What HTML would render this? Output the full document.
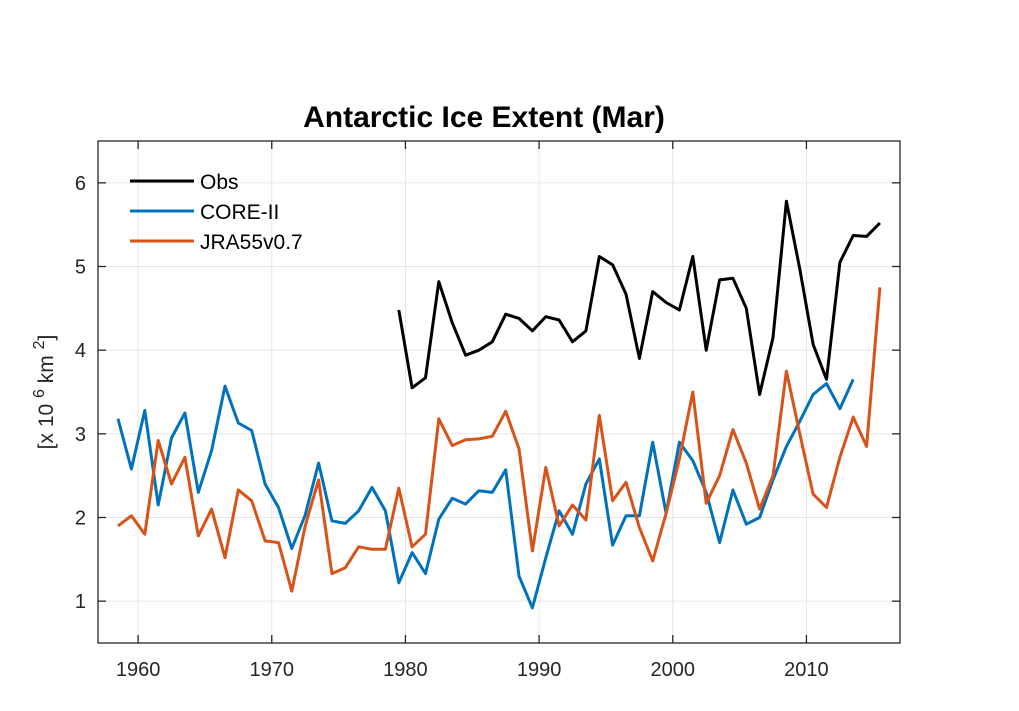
<!DOCTYPE html>
<html><head><meta charset="utf-8"><style>
html,body{margin:0;padding:0;background:#fff;}
svg{display:block;font-family:"Liberation Sans",sans-serif;}
</style></head><body>
<svg id="chart" width="1019" height="711" xmlns="http://www.w3.org/2000/svg">
<text x="484" y="127" text-anchor="middle" font-size="30" font-weight="bold" fill="#000">Antarctic Ice Extent (Mar)</text>
<g id="grid"></g>
<g id="series"></g>
<rect x="98" y="141" width="802" height="502" fill="none" stroke="#262626" stroke-width="1.3"/>
<g id="ticks"></g>
<text transform="translate(53,392) rotate(-90)" text-anchor="middle" font-size="21" fill="#262626">[x 10 <tspan dy="-9" font-size="16">6</tspan><tspan dy="9"> km </tspan><tspan dy="-9" font-size="16">2</tspan><tspan dy="9">]</tspan></text>
<g>
<line x1="130" y1="181" x2="194" y2="181" stroke="#000" stroke-width="3"/>
<text x="200" y="189" font-size="21" fill="#000">Obs</text>
<line x1="130" y1="211" x2="194" y2="211" stroke="#0072BD" stroke-width="3"/>
<text x="200" y="219" font-size="21" fill="#000">CORE-II</text>
<line x1="130" y1="241" x2="194" y2="241" stroke="#D95319" stroke-width="3"/>
<text x="200" y="249" font-size="21" fill="#000">JRA55v0.7</text>
</g>
</svg>
<script>
const xTicks=[1960,1970,1980,1990,2000,2010];
const yTicks=[1,2,3,4,5,6];
const coreStart=1958;
const coreVals=[3.18,2.58,3.28,2.15,2.95,3.25,2.3,2.8,3.57,3.13,3.04,2.4,2.12,1.63,2.03,2.65,1.96,1.93,2.08,2.36,2.08,1.22,1.58,1.33,1.98,2.23,2.16,2.32,2.3,2.57,1.3,0.92,1.52,2.08,1.8,2.4,2.7,1.67,2.02,2.02,2.9,2.05,2.9,2.68,2.3,1.7,2.33,1.92,2.0,2.45,2.85,3.15,3.47,3.6,3.3,3.65];
const jraStart=1958;
const jraVals=[1.9,2.02,1.8,2.92,2.4,2.72,1.78,2.1,1.52,2.33,2.2,1.72,1.7,1.12,1.9,2.45,1.33,1.4,1.65,1.62,1.62,2.35,1.65,1.8,3.18,2.86,2.93,2.94,2.97,3.27,2.82,1.6,2.6,1.9,2.15,1.97,3.22,2.2,2.42,1.88,1.48,2.05,2.7,3.5,2.17,2.5,3.05,2.65,2.1,2.5,3.75,3.0,2.28,2.12,2.72,3.2,2.85,4.75];
const obsStart=1979;
const obsVals=[4.48,3.55,3.67,4.82,4.33,3.94,4.0,4.1,4.43,4.38,4.23,4.4,4.36,4.1,4.23,5.12,5.02,4.67,3.9,4.7,4.57,4.48,5.12,4.0,4.84,4.86,4.5,3.47,4.15,5.78,4.97,4.07,3.65,5.05,5.37,5.36,5.52];

const X0=98,X1=900,Y0=643,Y1=141,xmin=1957,xmax=2017,ymin=0.5,ymax=6.5;
const sx=v=>X0+(v-xmin)/(xmax-xmin)*(X1-X0);
const sy=v=>Y0-(v-ymin)/(ymax-ymin)*(Y0-Y1);
const NS="http://www.w3.org/2000/svg";
const grid=document.getElementById('grid'),ticks=document.getElementById('ticks'),series=document.getElementById('series');
function mk(tag,attrs,parent){const e=document.createElementNS(NS,tag);for(const k in attrs)e.setAttribute(k,attrs[k]);parent.appendChild(e);return e;}
xTicks.forEach(t=>{const x=sx(t);
 const g=mk('line',{x1:x,x2:x,y1:Y1,y2:Y0,stroke:'#e6e6e6','stroke-width':1},grid);
 
 
 mk('line',{x1:x,x2:x,y1:Y0,y2:Y0-8,stroke:'#262626','stroke-width':1.3},ticks);
 mk('line',{x1:x,x2:x,y1:Y1,y2:Y1+8,stroke:'#262626','stroke-width':1.3},ticks);
 const tx=mk('text',{x:x,y:Y0+33,'text-anchor':'middle','font-size':20,fill:'#262626'},ticks);
 tx.textContent=t;
 
 
});
yTicks.forEach(t=>{const y=sy(t);
 const g=mk('line',{x1:X0,x2:X1,y1:y,y2:y,stroke:'#e6e6e6','stroke-width':1},grid);
 
 
 mk('line',{x1:X0,x2:X0+8,y1:y,y2:y,stroke:'#262626','stroke-width':1.3},ticks);
 mk('line',{x1:X1,x2:X1-8,y1:y,y2:y,stroke:'#262626','stroke-width':1.3},ticks);
 const tx=mk('text',{x:X0-12,y:y+7,'text-anchor':'end','font-size':20,fill:'#262626'},ticks);
 tx.textContent=t;
 
 
});
function line(start,vals,color,name){
 const pts=vals.map((v,i)=>sx(start+i+0.5).toFixed(1)+','+sy(v).toFixed(1)).join(' ');
 const p=mk('polyline',{points:pts,fill:'none',stroke:color,'stroke-width':3,'stroke-linejoin':'round'},series);
 
 
}
line(coreStart,coreVals,'#0072BD','core-ii-line');
line(jraStart,jraVals,'#D95319','jra55-line');
line(obsStart,obsVals,'#000000','obs-line');
</script>
</body></html>
